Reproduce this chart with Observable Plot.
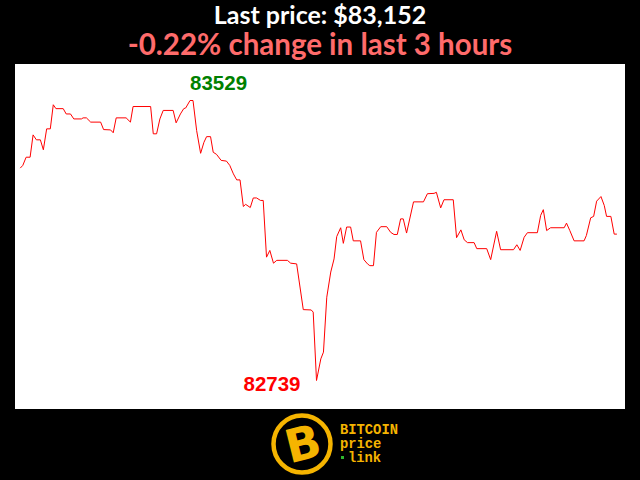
<!DOCTYPE html>
<html>
<head>
<meta charset="utf-8">
<script src="https://cdn.jsdelivr.net/npm/d3@7"></script>
<script src="https://cdn.jsdelivr.net/npm/@observablehq/plot@0.6"></script>
<style>
  html, body { margin: 0; padding: 0; background: #000; }
  #wrap { position: relative; width: 640px; height: 480px; background: #000; overflow: hidden; }
  #t1 { position: absolute; top: 1px; left: 0; width: 640px; text-align: center; color: #fff;
        font-family: Lato, "Open Sans", sans-serif; font-weight: 700; font-size: 25px; line-height: 27px; }
  #t2 { position: absolute; top: 28px; left: 0; width: 640px; text-align: center; color: #ff6b6b;
        font-family: Lato, "Open Sans", sans-serif; font-weight: 700; font-size: 29.5px; line-height: 32px; }
  #chart { position: absolute; left: 15px; top: 64px; width: 610px; height: 345px; background: #fff; }
  #logo { position: absolute; left: 268px; top: 410px; }
</style>
</head>
<body>
<div id="wrap">
  <div id="t1">Last price: $83,152</div>
  <div id="t2">-0.22% change in last 3 hours</div>
  <div id="chart"></div>
  <svg id="logo" width="140" height="68" viewBox="0 0 140 68">
    <circle cx="34" cy="34" r="28.5" fill="none" stroke="#f5b400" stroke-width="4.5"/>
    <text x="35" y="50" text-anchor="middle" font-family="DejaVu Sans" font-weight="700" font-size="46" fill="#f5b400" transform="rotate(-14 34 34)">B</text>
    <text x="72" y="24" font-family="'Liberation Mono', 'DejaVu Sans Mono', monospace" font-weight="700" font-size="13.8" fill="#f5b400">BITCOIN</text>
    <text x="72" y="38" font-family="'Liberation Mono', 'DejaVu Sans Mono', monospace" font-weight="700" font-size="13.8" fill="#f5b400">price</text>
    <rect x="73" y="46" width="3" height="3" fill="#2db52d"/>
    <text x="80" y="52" font-family="'Liberation Mono', 'DejaVu Sans Mono', monospace" font-weight="700" font-size="13.8" fill="#f5b400">link</text>
  </svg>
</div>
<script>
// minutes since start of the 3-hour window
const minutes = [0,0.7,1.7,2.9,3.8,4.8,6.0,6.9,7.9,9.0,9.9,10.7,12.9,13.8,15.1,16.1,18.4,18.9,19.9,21.2,
  24.2,25.1,27.2,28.0,28.9,31.9,33.2,34.0,39.3,40.1,41.1,42.1,43.1,46.1,47.0,48.3,49.3,49.9,51.2,52.1,
  53.2,54.4,55.4,56.2,57.4,58.2,59.2,60.6,62.2,63.2,64.3,65.3,66.3,67.3,68.0,69.4,70.3,71.3,72.5,73.3,
  74.3,75.3,76.4,77.4,80.6,81.6,83.4,85.4,87.8,88.4,89.4,90.7,91.5,92.5,93.7,94.7,95.5,96.7,97.5,98.5,
  99.7,100.5,102.7,103.7,104.8,105.5,106.6,107.5,108.8,110.6,111.8,112.8,113.8,114.8,115.6,116.6,118.7,121.7,122.9,124.9,
  125.6,126.9,127.9,130.7,131.7,133.0,134.0,135.0,137.0,137.8,140.8,142.0,143.8,145.0,148.9,149.9,150.9,152.1,153.1,156.1,
  157.1,157.9,158.9,160.1,164.2,164.9,165.9,167.2,170.2,170.9,172.2,173.1,174.0,175.3,176.3,177.0,178.3,179.3,180.0];
// BTC price in USD
const prices = [83339,83346,83369,83369,83432,83418,83418,83390,83449,83449,83517,83506,83506,83491,83491,83477,83477,83480,83480,83468,
  83468,83447,83446,83438,83480,83480,83468,83512,83512,83435,83435,83477,83501,83501,83466,83491,83506,83508,83529,83529,
  83444,83380,83411,83427,83427,83383,83377,83360,83358,83346,83322,83305,83305,83230,83236,83227,83254,83254,83247,83247,
  83087,83106,83070,83078,83078,83070,83068,82939,82938,82932,82739,82800,82819,82974,83045,83082,83145,83170,83126,83172,
  83172,83133,83133,83080,83068,83063,83063,83157,83173,83173,83157,83151,83151,83195,83195,83155,83243,83243,83266,83267,
  83270,83226,83249,83249,83142,83164,83136,83128,83128,83111,83111,83080,83160,83108,83108,83122,83106,83143,83156,83156,
  83205,83221,83162,83170,83170,83183,83162,83133,83133,83148,83198,83202,83245,83258,83233,83202,83202,83152,83152];

const data = minutes.map((m, i) => ({t: m, p: prices[i]}));
const maxP = d3.max(prices), minP = d3.min(prices);
const maxD = data.find(d => d.p === maxP);
const minD = data.find(d => d.p === minP);

const chart = Plot.plot({
  width: 610,
  height: 345,
  marginLeft: 5,
  marginRight: 9,
  marginTop: 36,
  marginBottom: 29,
  style: {background: "#fff", overflow: "visible"},
  x: {domain: [0, 180], axis: null},
  y: {domain: [minP, maxP], axis: null},
  marks: [
    Plot.line(data, {x: "t", y: "p", stroke: "#ff0000", strokeWidth: 1}),
    Plot.text([maxD], {x: "t", y: "p", text: d => String(d.p), fill: "#008000", fontSize: 20.5, fontWeight: "bold",
      fontFamily: "Liberation Sans, Arial, sans-serif", textAnchor: "start", dx: 0, dy: -17}),
    Plot.text([minD], {x: "t", y: "p", text: d => String(d.p), fill: "#ff0000", fontSize: 20.5, fontWeight: "bold",
      fontFamily: "Liberation Sans, Arial, sans-serif", textAnchor: "end", dx: -16, dy: 4})
  ]
});
document.getElementById("chart").appendChild(chart);
</script>
</body>
</html>
